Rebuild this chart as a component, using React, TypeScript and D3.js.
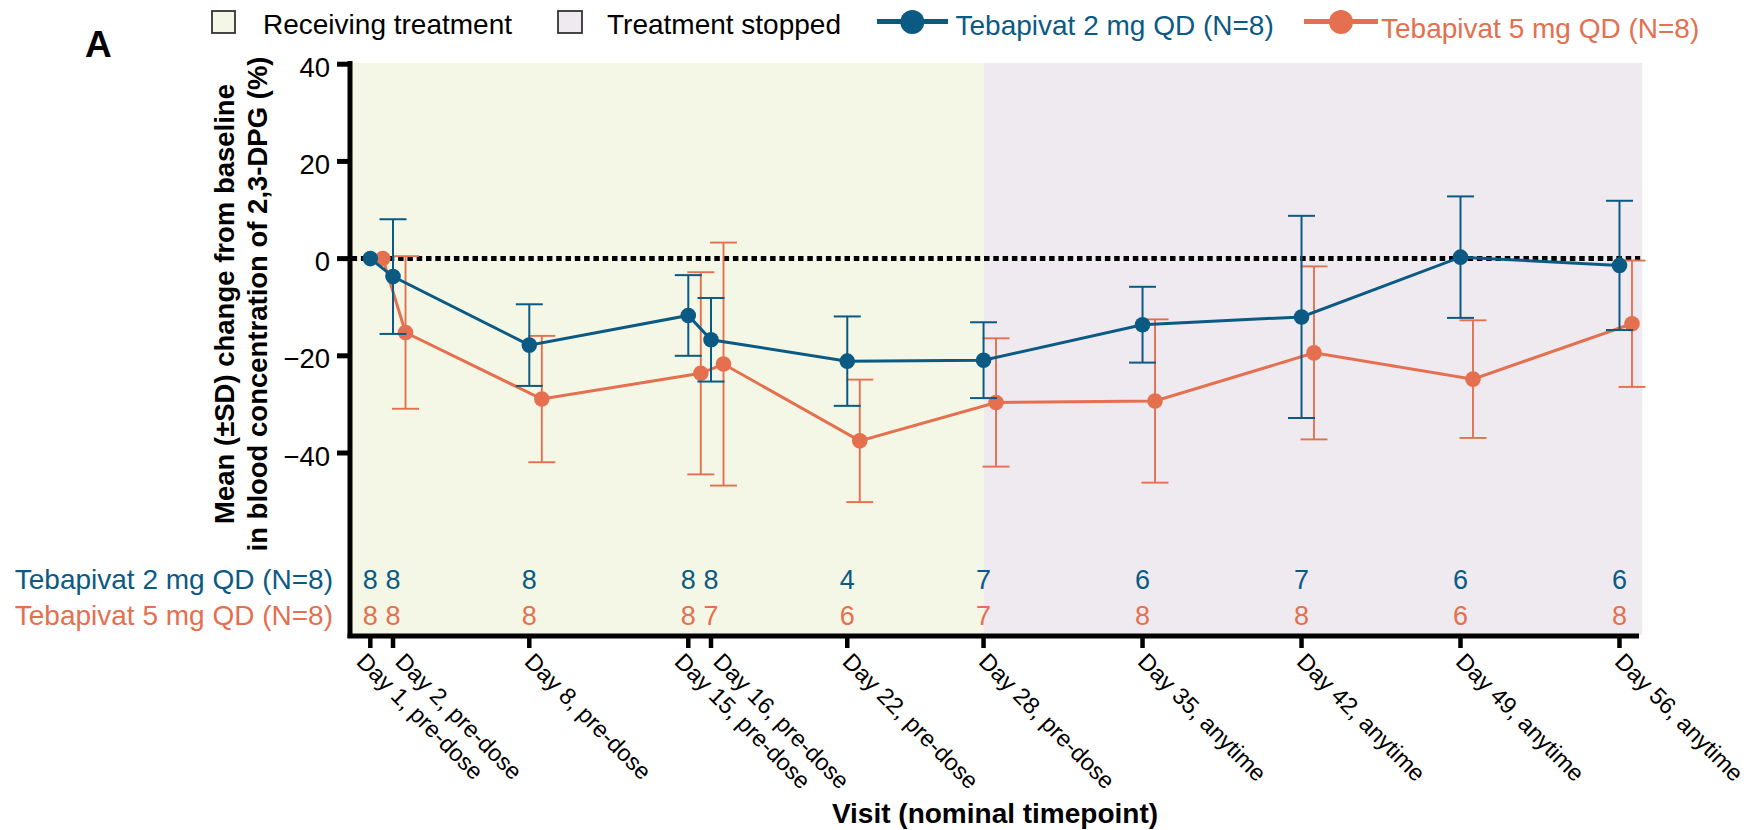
import React from "react";
import * as d3 from "d3";

const days = [1, 2, 8, 15, 16, 22, 28, 35, 42, 49, 56];
const tickLabels = [
  "Day 1, pre-dose", "Day 2, pre-dose", "Day 8, pre-dose", "Day 15, pre-dose",
  "Day 16, pre-dose", "Day 22, pre-dose", "Day 28, pre-dose", "Day 35, anytime",
  "Day 42, anytime", "Day 49, anytime", "Day 56, anytime",
];
const mean2mg = [0, -3.7, -17.8, -11.7, -16.7, -21.1, -20.9, -13.6, -12.0, 0.3, -1.4];
const sd2mg = [0, 11.8, 8.4, 8.3, 8.6, 9.2, 7.8, 7.8, 20.8, 12.5, 13.3];
const mean5mg = [0, -15.2, -28.9, -23.6, -21.7, -37.5, -29.6, -29.3, -19.4, -24.8, -13.4];
const sd5mg = [0, 15.7, 13.0, 20.8, 25.0, 12.6, 13.2, 16.8, 17.8, 12.1, 13.0];
const n2mg = [8, 8, 8, 8, 8, 4, 7, 6, 7, 6, 6];
const n5mg = [8, 8, 8, 8, 7, 6, 7, 8, 8, 6, 8];
const yTicks = [40, 20, 0, -20, -40];
const seriesNames = ["Tebapivat 2 mg QD (N=8)", "Tebapivat 5 mg QD (N=8)"];
const phaseNames = ["Receiving treatment", "Treatment stopped"];
const treatmentEndDay = 28;

const BLUE = "#0b5a84";
const ORANGE = "#e4704f";
const GREEN_BG = "#f5f7e6";
const PURPLE_BG = "#efeaf0";
const FONT = "'Liberation Sans', Arial, Helvetica, sans-serif";

export default function App() {
  const x = d3.scaleLinear().domain([0, 57]).range([347.6, 1642.2]);
  const y = d3.scaleLinear().domain([40.25, -77.45]).range([63, 635]);
  const dodge = 12.5;
  const capW = 27;

  const series = [
    { mean: mean5mg, sd: sd5mg, color: ORANGE, off: dodge, ew: 1.9 },
    { mean: mean2mg, sd: sd2mg, color: BLUE, off: 0, ew: 2 },
  ];

  const pathFor = (mean: number[], off: number) =>
    d3
      .line<number>()
      .x((_, i) => x(days[i]) + off)
      .y((d) => y(d))(mean) || "";

  const labelShift = (i: number) => {
    if (i + 1 < days.length && days[i + 1] - days[i] === 1) return -15;
    if (i > 0 && days[i] - days[i - 1] === 1) return 1;
    return -6;
  };

  const x0 = x(0);
  const x1 = x(57);
  const yTop = y(40.25);
  const yBot = y(-77.45);

  return (
    <svg
      width={1747}
      height={830}
      style={{ position: "absolute", left: 0, top: 0, background: "#fff" }}
      fontFamily={FONT}
    >
      <defs>
        <filter id="blur" x="-5%" y="-400%" width="110%" height="900%">
          <feGaussianBlur stdDeviation="2.5" />
        </filter>
      </defs>

      {/* background phases */}
      <rect x={x0} y={yTop} width={x(treatmentEndDay) - x0} height={yBot - yTop} fill={GREEN_BG} />
      <rect x={x(treatmentEndDay)} y={yTop} width={x1 - x(treatmentEndDay)} height={yBot - yTop} fill={PURPLE_BG} />

      {/* zero reference line with shadow */}
      <line x1={x0 + 4} x2={x1 - 2} y1={y(0) + 5} y2={y(0) + 5} stroke="#777" strokeWidth={5} opacity={0.6} filter="url(#blur)" />
      <line x1={x0 + 4} x2={x1 - 2} y1={y(0)} y2={y(0)} stroke="#000" strokeWidth={5} strokeDasharray="5.5,3.8" />

      {/* series */}
      {series.map((s, si) => (
        <g key={si}>
          {s.mean.map((m, i) => {
            if (s.sd[i] === 0) return null;
            const cx = x(days[i]) + s.off;
            const yt = y(m + s.sd[i]);
            const yb = y(m - s.sd[i]);
            return (
              <g key={i} stroke={s.color} strokeWidth={s.ew}>
                <line x1={cx} x2={cx} y1={yt} y2={yb} />
                <line x1={cx - capW / 2} x2={cx + capW / 2} y1={yt} y2={yt} />
                <line x1={cx - capW / 2} x2={cx + capW / 2} y1={yb} y2={yb} />
              </g>
            );
          })}
          <path d={pathFor(s.mean, s.off)} fill="none" stroke={s.color} strokeWidth={3} />
          {s.mean.map((m, i) => (
            <circle key={i} cx={x(days[i]) + s.off} cy={y(m)} r={7.8} fill={s.color} />
          ))}
        </g>
      ))}

      {/* N at risk */}
      {days.map((d, i) => (
        <g key={i} fontSize={27} textAnchor="middle">
          <text x={x(d)} y={589} fill={BLUE}>{n2mg[i]}</text>
          <text x={x(d)} y={625} fill={ORANGE}>{n5mg[i]}</text>
        </g>
      ))}
      <text x={333} y={589} fontSize={28} textAnchor="end" fill={BLUE}>{seriesNames[0]}</text>
      <text x={333} y={625} fontSize={28} textAnchor="end" fill={ORANGE}>{seriesNames[1]}</text>

      {/* y axis */}
      <line x1={350} x2={350} y1={61} y2={638} stroke="#000" strokeWidth={5} />
      {yTicks.map((t) => (
        <g key={t}>
          <line x1={337} x2={350} y1={y(t)} y2={y(t)} stroke="#000" strokeWidth={5} />
          <text x={330} y={y(t) + 12.5} fontSize={27.5} textAnchor="end" fill="#000">
            {t < 0 ? "\u2212" + Math.abs(t) : String(t)}
          </text>
        </g>
      ))}

      {/* x axis */}
      <line x1={347.5} x2={1639} y1={636} y2={636} stroke="#000" strokeWidth={5} />
      {days.map((d, i) => (
        <g key={i}>
          <line x1={x(d)} x2={x(d)} y1={636} y2={648} stroke="#000" strokeWidth={4.5} />
          <text
            transform={`translate(${x(d) + labelShift(i)},${663}) rotate(45)`}
            fontSize={23.5}
            fill="#000"
          >
            {tickLabels[i]}
          </text>
        </g>
      ))}

      {/* axis titles */}
      <text x={995} y={823} fontSize={28} fontWeight="bold" textAnchor="middle" fill="#000">
        Visit (nominal timepoint)
      </text>
      <g transform="rotate(-90)" fontSize={27.5} fontWeight="bold" textAnchor="middle" fill="#000">
        <text x={-304} y={233.5}>Mean (±SD) change from baseline</text>
        <text x={-304} y={266.5}>in blood concentration of 2,3-DPG (%)</text>
      </g>

      {/* panel label */}
      <text x={85} y={57} fontSize={37} fontWeight="bold" fill="#000">A</text>

      {/* legend */}
      <rect x={212} y={11} width={23} height={22} fill={GREEN_BG} stroke="#333" strokeWidth={1.8} />
      <text x={263} y={33.5} fontSize={28} fill="#000">{phaseNames[0]}</text>
      <rect x={558} y={11} width={24} height={22} fill={PURPLE_BG} stroke="#333" strokeWidth={1.8} />
      <text x={607} y={33.5} fontSize={28} fill="#000">{phaseNames[1]}</text>

      <line x1={877} x2={948} y1={21.5} y2={21.5} stroke={BLUE} strokeWidth={5} />
      <circle cx={912.3} cy={22} r={12} fill={BLUE} />
      <text x={955.5} y={34.5} fontSize={28} fill={BLUE}>{seriesNames[0]}</text>

      <line x1={1304} x2={1378} y1={21.5} y2={21.5} stroke={ORANGE} strokeWidth={5} />
      <circle cx={1341} cy={22} r={12} fill={ORANGE} />
      <text x={1381} y={37.5} fontSize={28} fill={ORANGE}>{seriesNames[1]}</text>
    </svg>
  );
}
